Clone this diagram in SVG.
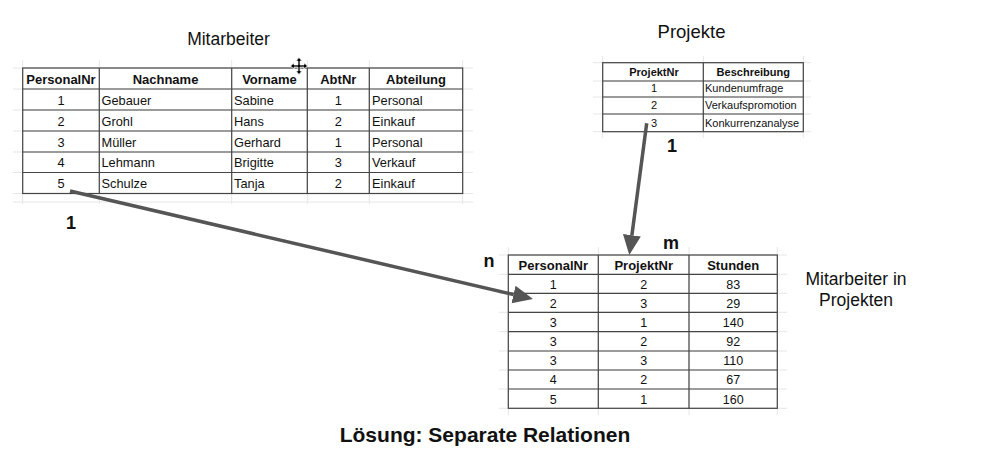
<svg xmlns="http://www.w3.org/2000/svg" width="985" height="472" viewBox="0 0 985 472">
<defs>
<style>
text{font-family:"Liberation Sans",Arial,sans-serif;fill:#111}
.grid line{stroke:#e6e6e6;stroke-width:1}
.tb line,.tb rect{stroke:#444;stroke-width:1.2;fill:none}
.h1{font-weight:bold;font-size:13px;text-anchor:middle}
.d1{font-size:12.8px}
.h2{font-weight:bold;font-size:11px;text-anchor:middle}
.d2{font-size:11px}
.h3{font-weight:bold;font-size:13px;text-anchor:middle}
.d3{font-size:12.5px;text-anchor:middle}
.c{text-anchor:middle}
.title{font-size:17.5px;text-anchor:middle}
.card{font-weight:bold;font-size:18px}
.conn{stroke:#555;stroke-width:3.5;fill:none}
</style>
<marker id="ah" markerUnits="userSpaceOnUse" markerWidth="22" markerHeight="20" refX="0" refY="9" orient="auto">
<path d="M0,0 L20,9 L0,18 Z" fill="#555"/>
</marker>
</defs>
<rect width="985" height="472" fill="#fff"/>

<g id="mitarbeiter">
<text class="title" x="228.5" y="45">Mitarbeiter</text>
<g class="grid">
<line x1="13" y1="68" x2="473" y2="68"/><line x1="13" y1="89" x2="473" y2="89"/><line x1="13" y1="110" x2="473" y2="110"/><line x1="13" y1="131" x2="473" y2="131"/><line x1="13" y1="152" x2="473" y2="152"/><line x1="13" y1="172.5" x2="473" y2="172.5"/><line x1="13" y1="193.5" x2="473" y2="193.5"/><line x1="13" y1="202" x2="473" y2="202"/>
<line x1="22.7" y1="60" x2="22.7" y2="204"/><line x1="99.3" y1="60" x2="99.3" y2="204"/><line x1="231.7" y1="60" x2="231.7" y2="204"/><line x1="307.3" y1="60" x2="307.3" y2="204"/><line x1="369.3" y1="60" x2="369.3" y2="204"/><line x1="462.7" y1="60" x2="462.7" y2="204"/>
</g>
<g class="tb">
<rect x="22.7" y="68" width="440" height="125.5"/>
<line x1="22.7" y1="89" x2="462.7" y2="89"/><line x1="22.7" y1="110" x2="462.7" y2="110"/><line x1="22.7" y1="131" x2="462.7" y2="131"/><line x1="22.7" y1="152" x2="462.7" y2="152"/><line x1="22.7" y1="172.5" x2="462.7" y2="172.5"/>
<line x1="99.3" y1="68" x2="99.3" y2="193.5"/><line x1="231.7" y1="68" x2="231.7" y2="193.5"/><line x1="307.3" y1="68" x2="307.3" y2="193.5"/><line x1="369.3" y1="68" x2="369.3" y2="193.5"/>
</g>
<text class="h1" x="61" y="83.5">PersonalNr</text><text class="h1" x="165.5" y="83.5">Nachname</text><text class="h1" x="269.5" y="83.5">Vorname</text><text class="h1" x="338.3" y="83.5">AbtNr</text><text class="h1" x="416" y="83.5">Abteilung</text>
<g class="d1">
<text class="c" x="61" y="104.5">1</text><text x="101.5" y="104.5">Gebauer</text><text x="234" y="104.5">Sabine</text><text class="c" x="338.3" y="104.5">1</text><text x="372" y="104.5">Personal</text>
<text class="c" x="61" y="125.5">2</text><text x="101.5" y="125.5">Grohl</text><text x="234" y="125.5">Hans</text><text class="c" x="338.3" y="125.5">2</text><text x="372" y="125.5">Einkauf</text>
<text class="c" x="61" y="146.5">3</text><text x="101.5" y="146.5">Müller</text><text x="234" y="146.5">Gerhard</text><text class="c" x="338.3" y="146.5">1</text><text x="372" y="146.5">Personal</text>
<text class="c" x="61" y="167">4</text><text x="101.5" y="167">Lehmann</text><text x="234" y="167">Brigitte</text><text class="c" x="338.3" y="167">3</text><text x="372" y="167">Verkauf</text>
<text class="c" x="61" y="188">5</text><text x="101.5" y="188">Schulze</text><text x="234" y="188">Tanja</text><text class="c" x="338.3" y="188">2</text><text x="372" y="188">Einkauf</text>
</g>
<path transform="translate(299,66)" d="M0,-8.5 L3.2,-5 L1.1,-5 L1.1,-1.1 L5,-1.1 L5,-3.2 L8.5,0 L5,3.2 L5,1.1 L1.1,1.1 L1.1,5 L3.2,5 L0,8.5 L-3.2,5 L-1.1,5 L-1.1,1.1 L-5,1.1 L-5,3.2 L-8.5,0 L-5,-3.2 L-5,-1.1 L-1.1,-1.1 L-1.1,-5 L-3.2,-5 Z" fill="#000" stroke="#fff" stroke-width="0.8"/>
</g>

<g id="projekte">
<text class="title" x="691.5" y="38" style="font-size:18.5px">Projekte</text>
<g class="grid">
<line x1="593" y1="62.7" x2="811" y2="62.7"/><line x1="593" y1="81" x2="811" y2="81"/><line x1="593" y1="97" x2="811" y2="97"/><line x1="593" y1="114" x2="811" y2="114"/><line x1="593" y1="131.7" x2="811" y2="131.7"/>
<line x1="602.7" y1="56" x2="602.7" y2="138"/><line x1="703.3" y1="56" x2="703.3" y2="138"/><line x1="803.3" y1="56" x2="803.3" y2="138"/>
</g>
<g class="tb">
<rect x="602.7" y="62.7" width="200.6" height="69"/>
<line x1="602.7" y1="81" x2="803.3" y2="81"/><line x1="602.7" y1="97" x2="803.3" y2="97"/><line x1="602.7" y1="114" x2="803.3" y2="114"/>
<line x1="703.3" y1="62.7" x2="703.3" y2="131.7"/>
</g>
<text class="h2" x="654" y="76">ProjektNr</text><text class="h2" x="753.3" y="76">Beschreibung</text>
<g class="d2">
<text class="c" x="654" y="92">1</text><text x="705" y="92">Kundenumfrage</text>
<text class="c" x="654" y="109">2</text><text x="705" y="109">Verkaufspromotion</text>
<text class="c" x="654" y="126.5">3</text><text x="705" y="126.5">Konkurrenzanalyse</text>
</g>
</g>

<g id="mitarbeiter-in-projekten">
<text class="title" x="856" y="285">Mitarbeiter in</text>
<text class="title" x="856" y="305.5">Projekten</text>
<g class="grid">
<line x1="499" y1="255" x2="787" y2="255"/><line x1="499" y1="274.3" x2="787" y2="274.3"/><line x1="499" y1="293.3" x2="787" y2="293.3"/><line x1="499" y1="312.3" x2="787" y2="312.3"/><line x1="499" y1="331.7" x2="787" y2="331.7"/><line x1="499" y1="351" x2="787" y2="351"/><line x1="499" y1="370" x2="787" y2="370"/><line x1="499" y1="389" x2="787" y2="389"/><line x1="499" y1="408.3" x2="787" y2="408.3"/>
<line x1="508.3" y1="247" x2="508.3" y2="415"/><line x1="598.3" y1="247" x2="598.3" y2="415"/><line x1="689" y1="247" x2="689" y2="415"/><line x1="777.3" y1="247" x2="777.3" y2="415"/>
</g>
<g class="tb">
<rect x="508.3" y="255" width="269" height="153.3"/>
<line x1="508.3" y1="274.3" x2="777.3" y2="274.3"/><line x1="508.3" y1="293.3" x2="777.3" y2="293.3"/><line x1="508.3" y1="312.3" x2="777.3" y2="312.3"/><line x1="508.3" y1="331.7" x2="777.3" y2="331.7"/><line x1="508.3" y1="351" x2="777.3" y2="351"/><line x1="508.3" y1="370" x2="777.3" y2="370"/><line x1="508.3" y1="389" x2="777.3" y2="389"/>
<line x1="598.3" y1="255" x2="598.3" y2="408.3"/><line x1="689" y1="255" x2="689" y2="408.3"/>
</g>
<text class="h3" x="553.3" y="269.5">PersonalNr</text><text class="h3" x="643.7" y="269.5">ProjektNr</text><text class="h3" x="733.2" y="269.5">Stunden</text>
<g class="d3">
<text x="553.3" y="288.5">1</text><text x="643.7" y="288.5">2</text><text x="733.2" y="288.5">83</text>
<text x="553.3" y="307.5">2</text><text x="643.7" y="307.5">3</text><text x="733.2" y="307.5">29</text>
<text x="553.3" y="326.5">3</text><text x="643.7" y="326.5">1</text><text x="733.2" y="326.5">140</text>
<text x="553.3" y="346">3</text><text x="643.7" y="346">2</text><text x="733.2" y="346">92</text>
<text x="553.3" y="365">3</text><text x="643.7" y="365">3</text><text x="733.2" y="365">110</text>
<text x="553.3" y="384">4</text><text x="643.7" y="384">2</text><text x="733.2" y="384">67</text>
<text x="553.3" y="403.5">5</text><text x="643.7" y="403.5">1</text><text x="733.2" y="403.5">160</text>
</g>
</g>

<g id="connectors">
<line class="conn" x1="70" y1="191" x2="513.5" y2="294.5" marker-end="url(#ah)"/>
<line class="conn" x1="646.7" y1="123.3" x2="631.9" y2="235.2" marker-end="url(#ah)"/>
</g>

<g id="labels">
<text class="card" x="66" y="229">1</text>
<text class="card" x="667" y="152">1</text>
<text class="card" x="663" y="248.5">m</text>
<text class="card" x="483.5" y="266.5">n</text>
<text x="485" y="442" style="font-weight:bold;font-size:21px;text-anchor:middle">Lösung: Separate Relationen</text>
</g>
</svg>
